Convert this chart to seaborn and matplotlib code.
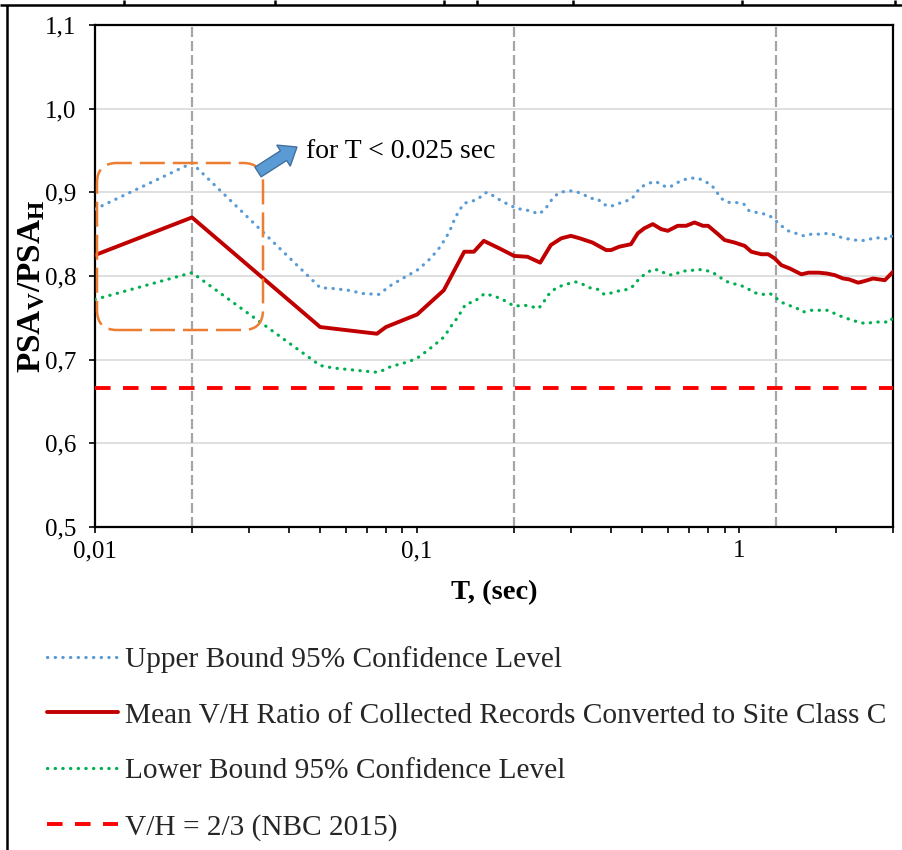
import matplotlib
matplotlib.use("Agg")
import matplotlib.pyplot as plt
from matplotlib.lines import Line2D
from matplotlib.patches import FancyBboxPatch, FancyArrow
from matplotlib.ticker import FixedLocator, FixedFormatter, LogLocator, NullFormatter, FuncFormatter
import pandas as pd
import seaborn as sns

# ---- data -------------------------------------------------------------
periods_upper = [0.01, 0.02, 0.05, 0.055, 0.061, 0.068, 0.076, 0.083, 0.091, 0.101,
                 0.110, 0.118, 0.126, 0.131, 0.135, 0.140, 0.147, 0.155, 0.160, 0.165,
                 0.174, 0.182, 0.193, 0.203, 0.215, 0.225, 0.238, 0.249, 0.257, 0.266,
                 0.278, 0.296, 0.310, 0.327, 0.343, 0.364, 0.377, 0.397, 0.418, 0.440,
                 0.464, 0.479, 0.499, 0.525, 0.551, 0.578, 0.607, 0.637, 0.672, 0.705,
                 0.744, 0.782, 0.819, 0.849, 0.876, 0.920, 0.973, 1.033, 1.072, 1.130,
                 1.198, 1.243, 1.297, 1.351, 1.418, 1.498, 1.585, 1.673, 1.772, 1.886,
                 1.993, 2.100, 2.219, 2.360, 2.500, 2.630, 2.780, 2.940, 3.000]
ratio_upper = [0.880, 0.935, 0.786, 0.785, 0.783, 0.779, 0.778, 0.789, 0.798, 0.808,
               0.821, 0.835, 0.853, 0.869, 0.878, 0.887, 0.889, 0.892, 0.898, 0.900,
               0.895, 0.890, 0.885, 0.881, 0.879, 0.878, 0.874, 0.879, 0.887, 0.895,
               0.900, 0.902, 0.901, 0.898, 0.893, 0.892, 0.886, 0.883, 0.886, 0.889,
               0.892, 0.900, 0.907, 0.911, 0.913, 0.908, 0.906, 0.911, 0.915, 0.917,
               0.917, 0.913, 0.909, 0.901, 0.893, 0.888, 0.888, 0.886, 0.878, 0.876,
               0.874, 0.872, 0.866, 0.860, 0.854, 0.851, 0.848, 0.850, 0.850, 0.851,
               0.849, 0.845, 0.844, 0.842, 0.843, 0.846, 0.845, 0.844, 0.852]

periods_mean = [0.01, 0.02, 0.05, 0.075, 0.080, 0.100, 0.121, 0.140, 0.150, 0.161,
                0.180, 0.200, 0.220, 0.241, 0.260, 0.280, 0.300, 0.320, 0.350, 0.386,
                0.400, 0.424, 0.461, 0.484, 0.507, 0.539, 0.572, 0.600, 0.644, 0.684,
                0.726, 0.771, 0.800, 0.859, 0.900, 0.967, 1.039, 1.090, 1.170, 1.230,
                1.288, 1.350, 1.434, 1.559, 1.640, 1.760, 1.870, 1.980, 2.100, 2.190,
                2.340, 2.450, 2.600, 2.830, 3.000]
ratio_mean = [0.825, 0.870, 0.739, 0.731, 0.739, 0.754, 0.783, 0.829, 0.829, 0.842,
              0.833, 0.824, 0.823, 0.816, 0.837, 0.845, 0.848, 0.845, 0.840, 0.831,
              0.831, 0.835, 0.838, 0.851, 0.857, 0.862, 0.856, 0.854, 0.860, 0.860,
              0.864, 0.860, 0.860, 0.850, 0.843, 0.840, 0.836, 0.829, 0.826, 0.826,
              0.821, 0.813, 0.809, 0.802, 0.804, 0.804, 0.803, 0.801, 0.797, 0.796,
              0.792, 0.794, 0.797, 0.795, 0.805]

periods_lower = [0.01, 0.02, 0.05, 0.055, 0.062, 0.070, 0.075, 0.078, 0.082, 0.087,
                 0.091, 0.096, 0.101, 0.106, 0.111, 0.116, 0.121, 0.125, 0.129, 0.134,
                 0.138, 0.142, 0.150, 0.157, 0.162, 0.173, 0.182, 0.190, 0.200, 0.215,
                 0.225, 0.237, 0.245, 0.252, 0.262, 0.274, 0.296, 0.310, 0.327, 0.343,
                 0.364, 0.381, 0.404, 0.429, 0.452, 0.472, 0.489, 0.513, 0.538, 0.566,
                 0.594, 0.627, 0.661, 0.699, 0.739, 0.779, 0.820, 0.861, 0.903, 0.955,
                 1.007, 1.061, 1.114, 1.183, 1.246, 1.290, 1.344, 1.424, 1.500, 1.576,
                 1.673, 1.772, 1.886, 1.980, 2.094, 2.207, 2.340, 2.470, 2.620, 2.780,
                 2.940, 3.000]
ratio_lower = [0.772, 0.804, 0.693, 0.690, 0.688, 0.686, 0.685, 0.687, 0.691, 0.694,
               0.696, 0.699, 0.703, 0.709, 0.715, 0.721, 0.727, 0.735, 0.743, 0.751,
               0.760, 0.767, 0.769, 0.775, 0.779, 0.776, 0.773, 0.769, 0.764, 0.765,
               0.764, 0.761, 0.766, 0.775, 0.782, 0.787, 0.791, 0.793, 0.790, 0.786,
               0.784, 0.778, 0.780, 0.783, 0.784, 0.789, 0.797, 0.803, 0.808, 0.807,
               0.802, 0.801, 0.806, 0.806, 0.808, 0.807, 0.805, 0.800, 0.794, 0.791,
               0.789, 0.785, 0.780, 0.778, 0.779, 0.775, 0.769, 0.765, 0.762, 0.757,
               0.759, 0.759, 0.759, 0.755, 0.751, 0.748, 0.745, 0.743, 0.745, 0.745,
               0.745, 0.751]

code_ratio = 2 / 3
guide_periods = [0.02, 0.2, 1.3]

y_ticks = [0.5, 0.6, 0.7, 0.8, 0.9, 1.0, 1.1]
x_ticks = [0.01, 0.1, 1]
x_tick_labels = ["0,01", "0,1", "1"]

label_upper = "Upper Bound 95% Confidence Level"
label_mean = "Mean V/H Ratio of Collected Records Converted to Site Class C"
label_lower = "Lower Bound 95% Confidence Level"
label_code = "V/H = 2/3 (NBC 2015)"
note_text = "for T < 0.025 sec"

upper_df = pd.DataFrame({"T": periods_upper, "ratio": ratio_upper})
mean_df = pd.DataFrame({"T": periods_mean, "ratio": ratio_mean})
lower_df = pd.DataFrame({"T": periods_lower, "ratio": ratio_lower})

# ---- style ------------------------------------------------------------
sns.set_theme(style="ticks")
plt.rcParams["font.family"] = ["Liberation Serif", "DejaVu Serif"]
plt.rcParams["mathtext.fontset"] = "custom"
plt.rcParams["mathtext.rm"] = "Liberation Serif"
plt.rcParams["mathtext.bf"] = "Liberation Serif:bold"
plt.rcParams["mathtext.it"] = "Liberation Serif:italic"

W, H = 902, 850
fig = plt.figure(figsize=(W / 100, H / 100), dpi=100)
fig.patch.set_facecolor("white")
ax = fig.add_axes([95 / W, 1 - 527 / H, (893 - 95) / W, (527 - 25) / H])
ax.set_facecolor("white")

# ---- series -----------------------------------------------------------
dot = (0, (0.1, 2.3))
sns.lineplot(data=upper_df, x="T", y="ratio", ax=ax, color="#5B9BD5", lw=2.3,
             linestyle=dot, dash_capstyle="round", label=label_upper, zorder=3)
sns.lineplot(data=mean_df, x="T", y="ratio", ax=ax, color="#C00000", lw=2.8,
             label=label_mean, zorder=4)
sns.lineplot(data=lower_df, x="T", y="ratio", ax=ax, color="#00B050", lw=2.3,
             linestyle=dot, dash_capstyle="round", label=label_lower, zorder=3)
ax.axhline(code_ratio, color="#FF0000", lw=2.8, linestyle=(0, (4, 3.2)),
           label=label_code, zorder=3)
for tp in guide_periods:
    ax.axvline(tp, color="#A6A6A6", lw=1.6, linestyle=(0, (4.5, 1.8)), zorder=2)

# ---- axes -------------------------------------------------------------
ax.set_xscale("log")
ax.set_xlim(0.01, 3.0)
ax.set_ylim(0.5, 1.1)
ax.xaxis.set_major_locator(FixedLocator(x_ticks))
ax.xaxis.set_major_formatter(FixedFormatter(x_tick_labels))
ax.xaxis.set_minor_locator(LogLocator(base=10, subs=range(2, 10)))
ax.xaxis.set_minor_formatter(NullFormatter())
ax.yaxis.set_major_locator(FixedLocator(y_ticks))
ax.yaxis.set_major_formatter(FuncFormatter(lambda v, _: f"{v:.1f}".replace(".", ",")))
ax.tick_params(axis="both", which="both", direction="out", length=4.5, width=1.2,
               color="black", labelsize=18, labelcolor="black")
ax.tick_params(axis="y", which="minor", left=False)
ax.tick_params(axis="y", pad=9)
ax.tick_params(axis="x", pad=5)

ax.yaxis.grid(True, color="#D9D9D9", lw=1.2)
ax.xaxis.grid(False)
ax.set_axisbelow(True)
for s in ax.spines.values():
    s.set_visible(True)
    s.set_color("black")
    s.set_linewidth(1.6)

ax.set_xlabel("T, (sec)", fontsize=20.5, fontweight="bold", color="black")
ax.xaxis.set_label_coords(0.5, -0.105)
ax.set_ylabel(r"$\mathbf{PSA}_\mathbf{V}\mathbf{/PSA}_\mathbf{H}$", fontsize=24, color="black")
ax.yaxis.set_label_coords(-0.060, 0.48)

# ---- annotation -------------------------------------------------------
box = FancyBboxPatch((0.97, (H - 330) / 100), 1.66, 1.67,
                     boxstyle="round,pad=0,rounding_size=0.2",
                     transform=fig.dpi_scale_trans, fill=False,
                     ec="#ED7D31", lw=1.8, linestyle=(0, (10, 3.2)), zorder=6)
fig.add_artist(box)
arrow = FancyArrow(2.58, (H - 172) / 100, 0.39, 0.25, width=0.115, head_width=0.25,
                   head_length=0.16, length_includes_head=True,
                   transform=fig.dpi_scale_trans, fc="#5B9BD5", ec="#41719C", lw=1.0,
                   zorder=6)
fig.add_artist(arrow)
fig.text(306 / W, 1 - 158 / H, note_text, fontsize=20, ha="left", va="baseline",
         color="black")

# ---- legend -----------------------------------------------------------
ax.get_legend().remove()
handles, labels = ax.get_legend_handles_labels()
order = [label_upper, label_mean, label_lower, label_code]
hmap = dict(zip(labels, handles))
fig.legend([hmap[l] for l in order], order, loc="upper left",
           bbox_to_anchor=(47 / W, 1 - 646 / H), frameon=False, fontsize=21.2,
           handlelength=2.4, handletextpad=0.25, labelspacing=0.99,
           borderpad=0, borderaxespad=0)

# ---- surrounding table rules ------------------------------------------
def fx(px):
    return px / W

def fy(py):
    return 1 - py / H

rule = dict(color="black", lw=1.8, solid_capstyle="butt")
fig.add_artist(Line2D([fx(0), fx(W)], [fy(5), fy(5)], transform=fig.transFigure, **rule))
fig.add_artist(Line2D([fx(7), fx(7)], [fy(5), fy(H)], transform=fig.transFigure, **rule))
for xv in [124, 275, 444, 477, 573, 742, 895]:
    fig.add_artist(Line2D([fx(xv), fx(xv)], [fy(0), fy(5)], transform=fig.transFigure, **rule))

fig.savefig("out.png", dpi=100, facecolor="white")
